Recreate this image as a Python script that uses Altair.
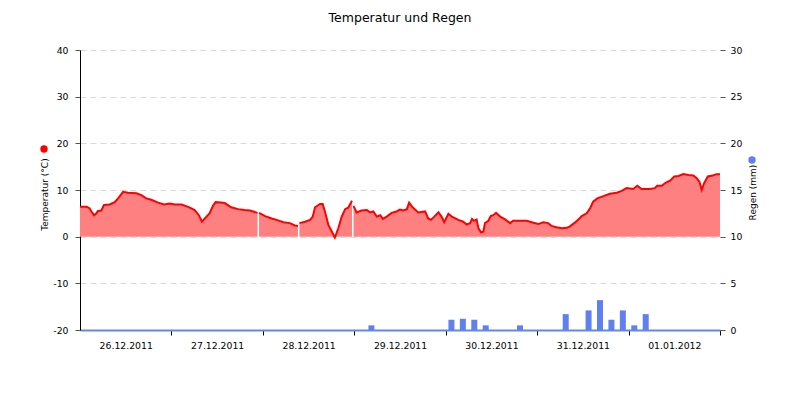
import altair as alt
import pandas as pd

# --- data (hours after 26.12.2011 00:00) ---
temp_hours = [0, 1.7, 2.5, 3.0, 3.7, 4.3, 4.7, 5.6, 6.3, 7.8, 9.1, 10.0, 11.3, 12.6, 14.8, 16.1,
              17.4, 18.7, 20.5, 22.1, 23.5, 24.9, 26.6, 28.4, 30.1, 31.2, 32.0, 33.2, 34.0, 34.9,
              35.6, 36.9, 38.0, 39.7, 41.5, 43.2, 44.6, 46.6, 46.8, 47.0, 48.6, 50.3, 51.6, 53.4,
              55.1, 56.4, 57.2, 57.4, 57.6, 59.1, 60.4, 61.1, 61.7, 63.0, 63.7, 64.3, 65.2, 66.1,
              66.9, 67.8, 68.7, 69.6, 70.4, 71.4, 71.6, 71.8, 72.6, 73.9, 75.3, 76.1, 77.0, 77.9,
              78.8, 79.5, 80.5, 81.8, 83.1, 84.0, 84.9, 85.8, 86.4, 87.3, 88.8, 90.6, 91.4, 92.1,
              93.0, 94.1, 94.9, 95.6, 96.7, 97.6, 99.3, 100.6, 101.5, 102.4, 102.9, 103.4, 104.1,
              104.6, 105.3, 105.9, 106.3, 107.2, 107.8, 108.5, 109.2, 110.3, 111.6, 112.9, 113.7,
              115.5, 117.3, 119.0, 120.3, 121.6, 122.9, 123.8, 125.1, 126.4, 127.8, 128.6, 129.9,
              131.1, 131.7, 133.0, 133.9, 134.7, 135.8, 137.4, 139.1, 140.9, 142.2, 143.5, 145.2,
              146.3, 147.4, 149.6, 150.9, 151.5, 152.7, 153.8, 154.9, 156.0, 157.1, 158.4, 159.7,
              161.0, 161.9, 162.6, 163.2, 163.8, 164.8, 166.1, 167.1, 168.0]
temp_values = [6.4, 6.4, 6.1, 5.4, 4.6, 5.0, 5.5, 5.6, 6.8, 6.9, 7.4, 8.2, 9.6, 9.4, 9.3, 8.9,
               8.2, 7.9, 7.3, 6.9, 7.1, 6.9, 6.9, 6.4, 5.7, 4.6, 3.2, 4.3, 5.0, 6.6,
               7.4, 7.3, 7.2, 6.3, 5.9, 5.7, 5.6, 5.1, None, 5.1, 4.4, 3.9, 3.6, 3.1,
               2.9, 2.4, 2.3, None, 2.9, 3.2, 3.6, 4.3, 6.3, 7.0, 7.0, 5.4, 2.5, 1.1,
               -0.2, 1.8, 4.3, 5.9, 6.2, 7.7, None, 6.6, 5.2, 5.6, 5.7, 5.2, 5.4, 4.3,
               4.6, 3.8, 4.3, 5.1, 5.4, 5.8, 5.6, 5.9, 7.3, 6.3, 5.2, 5.4, 3.9, 3.6,
               4.3, 5.2, 4.3, 3.1, 4.9, 4.3, 3.6, 3.2, 2.6, 2.9, 3.8, 3.4, 3.7,
               1.8, 0.9, 1.1, 2.9, 3.4, 4.4, 4.6, 5.1, 4.3, 3.7, 2.9, 3.4,
               3.4, 3.4, 3.0, 2.7, 3.1, 2.9, 2.3, 2.0, 1.8, 1.9, 2.2, 3.0,
               3.9, 4.4, 5.0, 6.1, 7.5, 8.2, 8.7, 9.2, 9.4, 9.8, 10.4, 10.2,
               10.9, 10.2, 10.2, 10.4, 10.9, 10.9, 11.6, 12.0, 12.9, 13.0, 13.4, 13.2,
               13.1, 12.5, 11.8, 10.0, 11.4, 12.9, 13.1, 13.4, 13.4]

rain_times = ["2011-12-29T04:30", "2011-12-30T01:30", "2011-12-30T04:30", "2011-12-30T07:30",
              "2011-12-30T10:30", "2011-12-30T19:30", "2011-12-31T07:30", "2011-12-31T13:30",
              "2011-12-31T16:30", "2011-12-31T19:30", "2011-12-31T22:30", "2012-01-01T01:30",
              "2012-01-01T04:30"]
rain_mm = [0.5, 1.1, 1.2, 1.1, 0.5, 0.5, 1.7, 2.1, 3.2, 1.1, 2.1, 0.5, 1.7]

temp_ticks = [-20, -10, 0, 10, 20, 30, 40]
rain_ticks = [0, 5, 10, 15, 20, 25, 30]
day_ticks = ["2011-12-27", "2011-12-28", "2011-12-29", "2011-12-30", "2011-12-31",
             "2012-01-01", "2012-01-02"]

start = pd.Timestamp("2011-12-26 00:00")
temp_df = pd.DataFrame({
    "Zeit": [(start + pd.Timedelta(hours=h)).strftime("%Y-%m-%dT%H:%M:%S") for h in temp_hours],
    "Temperatur": temp_values,
})
rain_df = pd.DataFrame({"Zeit": rain_times, "Regen": rain_mm})
dot_df = pd.DataFrame({"k": [0]})

FONT = "DejaVu Sans"


def dt(s):
    y, m, d = (int(p) for p in s.split("-"))
    return alt.DateTime(year=y, month=m, date=d)


x_enc = alt.X(
    "Zeit:T",
    title=None,
    scale=alt.Scale(domain=[alt.DateTime(year=2011, month=12, date=26),
                            alt.DateTime(year=2012, month=1, date=2)],
                    padding=0, nice=False),
    axis=alt.Axis(
        values=[dt(s) for s in day_ticks],
        labelExpr="timeFormat(datum.value - 86400000, '%d.%m.%Y')",
        labelOffset=-45.7,
        labelFlush=False,
        labelOverlap=False,
        labelPadding=6,
        labelFont=FONT,
        labelFontSize=9.3,
        labelColor="#000000",
        tickColor="#000000",
        tickSize=5,
        domainColor="#6585ea",
        domainWidth=2,
        grid=False,
    ),
)

y_temp = alt.Y(
    "Temperatur:Q",
    scale=alt.Scale(domain=[-20, 40], nice=False, zero=False),
    axis=alt.Axis(
        values=temp_ticks,
        labelExpr="'' + datum.value",
        title="Temperatur (°C)",
        titleX=-36, titleY=144, titleAngle=270,
        titleAlign="center", titleBaseline="middle",
        titleFont=FONT, titleFontSize=9, titleFontWeight="normal", titleColor="#000000",
        labelFont=FONT, labelFontSize=9.3, labelColor="#000000", labelPadding=7,
        tickColor="#555555", tickSize=5,
        domainColor="#000000", domainWidth=1,
        grid=True, gridColor="#d9d9d9", gridDash=[6, 4], gridWidth=1,
    ),
)

area = alt.Chart(temp_df).mark_area(color="#ff8080", opacity=1).encode(
    x=x_enc, y=y_temp, y2=alt.datum(0)
)
line = alt.Chart(temp_df).mark_line(color="#ff0000", strokeWidth=2).encode(
    x=x_enc, y=y_temp
)
red_dot = alt.Chart(dot_df).mark_point(
    filled=True, shape="circle", size=55, color="#ff0000", opacity=1
).encode(x=alt.value(-36), y=alt.value(99))

temp_layer = alt.layer(area, line, red_dot)

rain = alt.Chart(rain_df).mark_bar(color="#6080f0", width=6).encode(
    x=x_enc,
    y=alt.Y(
        "Regen:Q",
        scale=alt.Scale(domain=[0, 30], nice=False),
        axis=alt.Axis(
            orient="right",
            values=rain_ticks,
            title="Regen (mm)",
            titleX=32, titleY=142, titleAngle=270,
            titleAlign="center", titleBaseline="middle",
            titleFont=FONT, titleFontSize=9, titleFontWeight="normal", titleColor="#000000",
            labelFont=FONT, labelFontSize=9.3, labelColor="#000000", labelPadding=5,
            tickColor="#555555", tickSize=5,
            domain=False, grid=False,
        ),
    ),
)
blue_dot = alt.Chart(dot_df).mark_point(
    filled=True, shape="circle", size=55, color="#6080f0", opacity=1
).encode(x=alt.value(672), y=alt.value(110))

rain_layer = alt.layer(rain, blue_dot)

chart = (
    alt.layer(temp_layer, rain_layer)
    .resolve_scale(y="independent")
    .properties(
        width=640,
        height=280,
        autosize=alt.AutoSizeParams(type="none"),
        padding={"left": 72, "top": 42, "right": 72, "bottom": 62},
        title=alt.TitleParams(
            "Temperatur und Regen",
            font=FONT, fontSize=12.5, fontWeight="normal", color="#000000",
            anchor="middle", offset=22,
        ),
    )
    .configure(font=FONT)
    .configure_view(strokeWidth=0, stroke=None)
)

chart.save("out.html", embed_options={"renderer": "svg", "actions": False})
